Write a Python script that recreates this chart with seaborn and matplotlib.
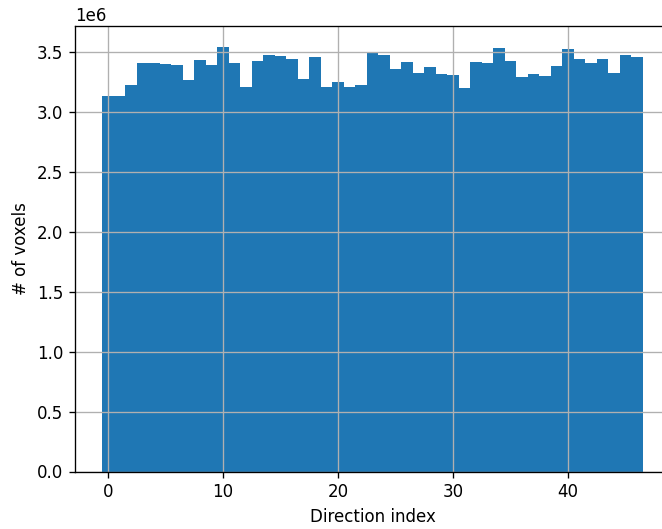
import matplotlib
matplotlib.use("Agg")
import matplotlib.pyplot as plt
import seaborn as sns
import numpy as np
import pandas as pd

direction_index = list(range(47))
voxel_counts = [
    3.134, 3.134, 3.224, 3.405, 3.405, 3.397, 3.389, 3.265, 3.435, 3.389,
    3.539, 3.405, 3.204, 3.425, 3.475, 3.464, 3.439, 3.274, 3.455, 3.204,
    3.246, 3.204, 3.224, 3.497, 3.478, 3.355, 3.413, 3.324, 3.374, 3.316,
    3.307, 3.196, 3.413, 3.405, 3.536, 3.425, 3.293, 3.313, 3.302, 3.386,
    3.522, 3.444, 3.405, 3.444, 3.324, 3.475, 3.455,
]
voxel_counts = [v * 1e6 for v in voxel_counts]

df = pd.DataFrame({"direction": direction_index, "count": voxel_counts})

DPI = 120
fig = plt.figure(figsize=(662 / DPI, 529 / DPI), dpi=DPI)
ax = fig.add_axes([75 / 662, (529 - 471.5) / 529, (670 - 75) / 662, (471.5 - 26) / 529])
sns.histplot(data=df, x="direction", weights="count", discrete=True,
             color="#1f77b4", alpha=1, linewidth=0, ax=ax)
ax.grid(True)
ax.set_xlabel("Direction index")
ax.set_ylabel("# of voxels")
ax.set_xlim(-2.85, 48.85)
ax.set_ylim(0, 3.539e6 * 1.05)
fig.savefig("out.png", dpi=DPI)
